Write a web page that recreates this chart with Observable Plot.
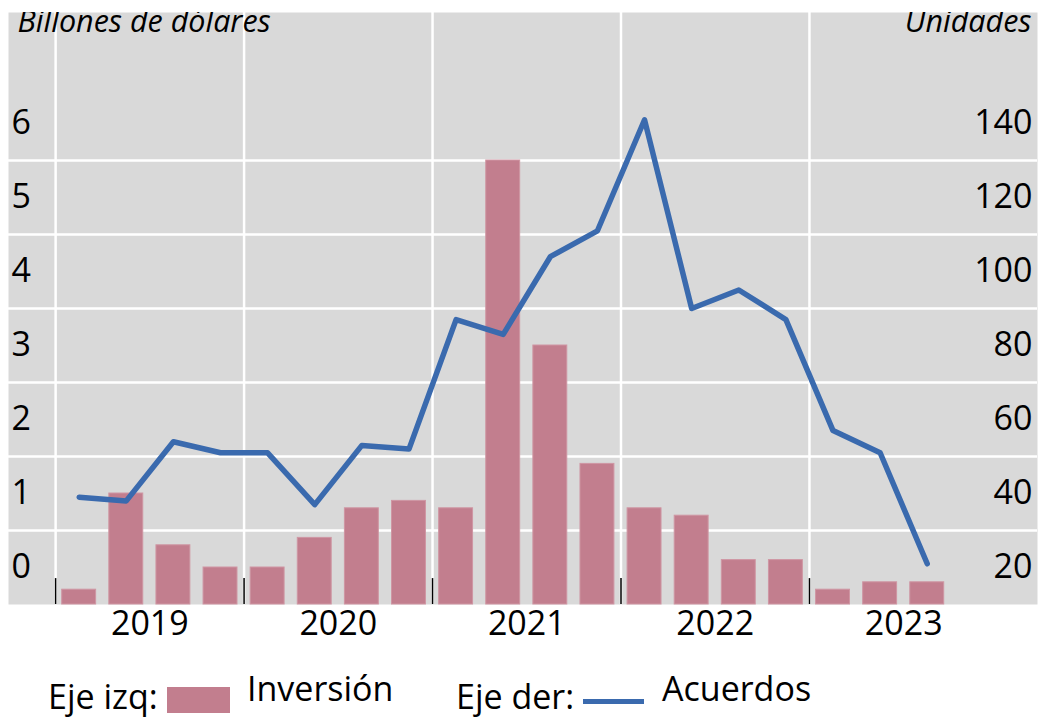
<!DOCTYPE html>
<html>
<head>
<meta charset="utf-8">
<script src="https://cdn.jsdelivr.net/npm/d3@7"></script>
<script src="https://cdn.jsdelivr.net/npm/@observablehq/plot@0.6"></script>
<style>
  body { margin: 0; background: #fff; }
  #chart { position: relative; width: 1040px; font-family: "Open Sans", sans-serif; }
  #chart svg { display: block; }
</style>
</head>
<body>
<div id="chart"></div>
<script>
// ---- Data ----
const years = [2019, 2019, 2019, 2019, 2020, 2020, 2020, 2020, 2021, 2021, 2021, 2021, 2022, 2022, 2022, 2022, 2023, 2023, 2023];
const quarters = [1, 2, 3, 4, 1, 2, 3, 4, 1, 2, 3, 4, 1, 2, 3, 4, 1, 2, 3];
const inversion = [0.2, 1.5, 0.8, 0.5, 0.5, 0.9, 1.3, 1.4, 1.3, 6.0, 3.5, 1.9, 1.3, 1.2, 0.6, 0.6, 0.2, 0.3, 0.3];
const acuerdos = [49, 48, 64, 61, 61, 47, 63, 62, 97, 93, 114, 121, 151, 100, 105, 97, 67, 61, 31];
const leftTicks = [0, 1, 2, 3, 4, 5, 6];
const rightTicks = [20, 40, 60, 80, 100, 120, 140];
const yearLabels = [2019, 2020, 2021, 2022, 2023];
const leftTitle = "Billones de dólares";
const rightTitle = "Unidades";
const legendLeftLabel = "Eje izq:";
const legendRightLabel = "Eje der:";
const seriesBar = "Inversión";
const seriesLine = "Acuerdos";

// right axis aligned with left: right = 20 + 20 * left
const toLeft = v => (v - 20) / 20;

const data = years.map((y, i) => ({
  t: y + (quarters[i] - 1) / 4 + 0.125,
  inv: inversion[i],
  acu: acuerdos[i]
}));

const barColor = "#c27e8e";
const lineColor = "#3a6aae";
const fontSize = 34;

const plot = Plot.plot({
  width: 1040,
  height: 650,
  marginTop: 12,
  marginBottom: 46,
  marginLeft: 8,
  marginRight: 3,
  style: { fontFamily: "Open Sans, sans-serif", fontSize: fontSize + "px", color: "#000", background: "transparent" },
  x: { type: "linear", domain: [2018.75, 2024.21], axis: null },
  y: { domain: [0, 8], axis: null },
  marks: [
    Plot.frame({ fill: "#d9d9d9", stroke: null }),
    Plot.ruleY(leftTicks.filter(d => d > 0), { stroke: "#fff", strokeWidth: 2.5 }),
    Plot.ruleX(yearLabels, { stroke: "#fff", strokeWidth: 2.5 }),
    Plot.rectY(data, { x1: d => d.t - 0.09, x2: d => d.t + 0.09, y: "inv", fill: barColor, stroke: "#cf96a3", strokeWidth: 1 }),
    Plot.ruleX(yearLabels, { y1: 0, y2: 0.35, stroke: "#000", strokeWidth: 1.5 }),
    Plot.line(data, { x: "t", y: d => toLeft(d.acu), stroke: lineColor, strokeWidth: 5.5, strokeLinecap: "round", strokeLinejoin: "round" }),
    Plot.text(leftTicks, { y: d => d, text: d => String(d), frameAnchor: "left", textAnchor: "start", dx: 3, dy: -37, fontSize: fontSize, fill: "#000" }),
    Plot.text(rightTicks, { y: d => toLeft(d), text: d => String(d), frameAnchor: "right", textAnchor: "end", dx: -5, dy: -37, fontSize: fontSize, fill: "#000" }),
    Plot.text(yearLabels, { x: d => d + 0.5, text: d => String(d), frameAnchor: "bottom", lineAnchor: "middle", dy: 20, fontSize: fontSize, fill: "#000" }),
    Plot.text([leftTitle], { text: d => d, frameAnchor: "top-left", textAnchor: "start", lineAnchor: "bottom", dx: 9, dy: 19, fontStyle: "italic", fontSize: 30.5, fill: "#000", clip: true }),
    Plot.text([rightTitle], { text: d => d, frameAnchor: "top-right", textAnchor: "end", lineAnchor: "bottom", dx: -6, dy: 19, fontStyle: "italic", fontSize: 30.5, fill: "#000", clip: true })
  ]
});

const chart = document.getElementById("chart");
chart.appendChild(plot);

// ---- Legend (below the plot SVG) ----
const leg = d3.select(chart).append("svg")
  .attr("width", 1040).attr("height", 68)
  .style("font-family", "Open Sans, sans-serif");
const lf = 34;
leg.append("text").attr("x", 48).attr("y", 59).attr("font-size", lf).attr("fill", "#000").text(legendLeftLabel);
leg.append("rect").attr("x", 167).attr("y", 37).attr("width", 63).attr("height", 26).attr("fill", barColor);
leg.append("text").attr("x", 247).attr("y", 51).attr("font-size", lf).attr("fill", "#000").text(seriesBar);
leg.append("text").attr("x", 456).attr("y", 59).attr("font-size", lf).attr("fill", "#000").text(legendRightLabel);
leg.append("line").attr("x1", 583).attr("x2", 644).attr("y1", 51.5).attr("y2", 51.5).attr("stroke", lineColor).attr("stroke-width", 5);
leg.append("text").attr("x", 662).attr("y", 51).attr("font-size", lf).attr("fill", "#000").text(seriesLine);
</script>
</body>
</html>
